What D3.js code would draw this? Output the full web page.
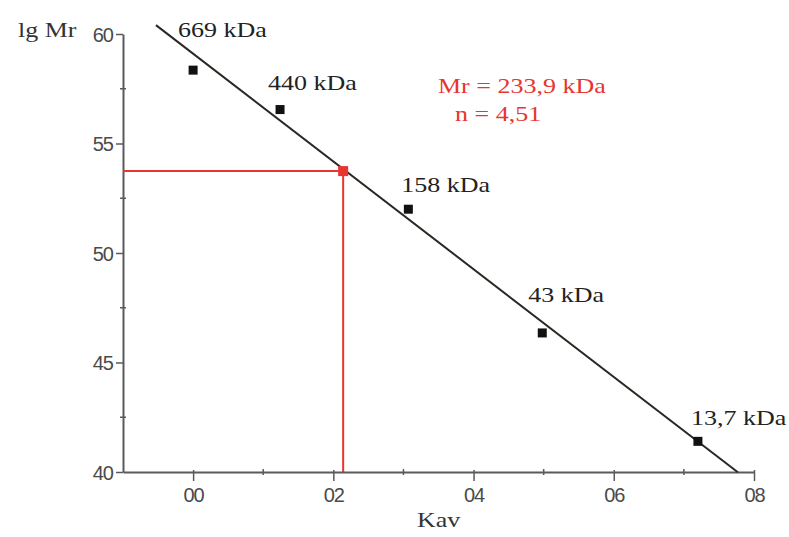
<!DOCTYPE html>
<html>
<head>
<meta charset="utf-8">
<script src="https://cdn.jsdelivr.net/npm/d3@7"></script>
<style>
  body { margin: 0; background: #fff; }
  svg { display: block; }
  .tick-label { font-family: "Liberation Sans", Arial, sans-serif; font-size: 20px; fill: #4a4a4a; letter-spacing: -1px; }
  .serif { font-family: "Liberation Serif", "Times New Roman", serif; font-size: 20px; }
</style>
</head>
<body>
<svg id="chart" width="789" height="537"></svg>
<script>
// calibration standards
const standards = ["669 kDa", "440 kDa", "158 kDa", "43 kDa", "13,7 kDa"];
const kav = [0.0, 0.124, 0.307, 0.498, 0.720];
const lgMr = [58.35, 56.55, 52.0, 46.35, 41.4];

// fitted line (drawn between these Kav values)
const fitKav = [-0.053, 0.777];
const fitIntercept = 59.1;
const fitSlope = -24.6;

// unknown sample
const unknownKav = 0.214;
const unknownLgMr = 53.74;
const resultLines = ["Mr = 233,9 kDa", "n = 4,51"];

const xTicks = [0.0, 0.2, 0.4, 0.6, 0.8];
const xTickLabels = ["00", "02", "04", "06", "08"];
const xMinorTicks = [0.1, 0.3, 0.5, 0.7];
const yTicks = [40, 45, 50, 55, 60];
const yMinorTicks = [42.5, 47.5, 52.5, 57.5];

const svg = d3.select("#chart");
const red = "#e8352f";
const axisColor = "#5a5a5a";
const STRETCH = 1.3; // serif text in the scan is wider than normal

const x = d3.scaleLinear().domain([-0.1, 0.8]).range([123, 754]);
const y = d3.scaleLinear().domain([40, 60]).range([472, 34]);

// axes
const xAxis = svg.append("g").attr("transform", "translate(0," + y(40) + ")");
xAxis.call(d3.axisBottom(x).tickValues(xTicks).tickFormat((d, i) => xTickLabels[i]).tickSize(9).tickSizeOuter(0));
xAxis.selectAll(".tick line").attr("y1", -2);
xAxis.append("g").selectAll("line").data(xMinorTicks).join("line")
    .attr("x1", d => x(d)).attr("x2", d => x(d)).attr("y1", -3).attr("y2", 3);

const yAxis = svg.append("g").attr("transform", "translate(" + x(-0.1) + ",0)");
yAxis.call(d3.axisLeft(y).tickValues(yTicks).tickFormat(d3.format("d")).tickSize(7).tickSizeOuter(0));
yAxis.append("g").selectAll("line").data(yMinorTicks).join("line")
    .attr("x1", -3).attr("x2", 3).attr("y1", d => y(d)).attr("y2", d => y(d));

[xAxis, yAxis].forEach(a => {
    a.select(".domain").attr("stroke", axisColor).attr("stroke-width", 2);
    a.selectAll("line").attr("stroke", axisColor).attr("stroke-width", 1.5);
    a.selectAll("text").attr("class", "tick-label").attr("font-family", null).attr("font-size", null);
});
xAxis.selectAll(".tick text").attr("y", 30).attr("dy", null);
yAxis.selectAll(".tick text").attr("x", -10).attr("dy", "0.36em");

// red guide lines to the unknown
svg.append("path")
    .attr("fill", "none")
    .attr("stroke", red)
    .attr("stroke-width", 2)
    .attr("d", d3.line()([[x(-0.1), y(unknownLgMr)], [x(unknownKav), y(unknownLgMr)], [x(unknownKav), y(40)]]));

// regression line
svg.append("path")
    .attr("fill", "none")
    .attr("stroke", "#2a2622")
    .attr("stroke-width", 2)
    .attr("d", d3.line().x(d => x(d)).y(d => y(fitIntercept + fitSlope * d))(fitKav));

// standard points
const S = 9;
svg.append("g").selectAll("rect").data(kav).join("rect")
    .attr("x", d => x(d) - S / 2)
    .attr("y", (d, i) => y(lgMr[i]) - S / 2)
    .attr("width", S).attr("height", S)
    .attr("fill", "#111");

svg.append("rect")
    .attr("x", x(unknownKav) - 5).attr("y", y(unknownLgMr) - 5)
    .attr("width", 10).attr("height", 10)
    .attr("fill", red);

function serifText(tx, ty, str, color) {
    return svg.append("text")
        .attr("class", "serif")
        .attr("fill", color)
        .attr("transform", "translate(" + tx + "," + ty + ") scale(" + STRETCH + ",1)")
        .text(str);
}

// point labels
const labelDx = [-15, -12, -7, -14, -7];
const labelDy = [-33, -20, -17, -31, -16];
standards.forEach((d, i) => {
    serifText(x(kav[i]) + labelDx[i], y(lgMr[i]) + labelDy[i], d, "#222");
});

serifText(438, 93, resultLines[0], red);
serifText(455, 121, resultLines[1], red);

// axis titles
serifText(18, 37, "lg Mr", "#333");
serifText(417, 527, "Kav", "#333");
</script>
</body>
</html>
